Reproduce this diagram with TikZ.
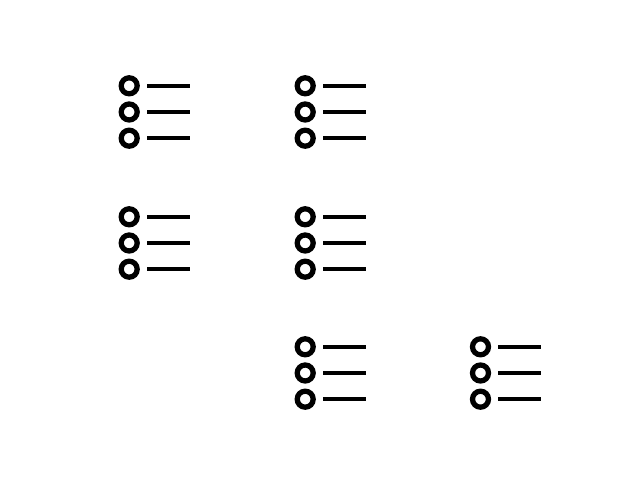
\documentclass[tikz,border=0pt]{standalone}
\usepackage{tikz}
\tikzset{
  bullet/.style={draw=black,line width=3pt,fill=none},
  bar/.style={fill=black},
  listicon/.pic={
    \foreach \row in {26.2,0,-26.2}{
      \draw[bullet] (0,\row) circle[radius=8];
      \fill[bar] (17.3,\row-2.2) rectangle (60.5,\row+2.2);
    }
  }
}
\begin{document}
\begin{tikzpicture}[x=0.02cm,y=0.02cm]
\useasboundingbox (0,0) rectangle (640,480);
% top row
\pic at (129.2,368) {listicon};
\pic at (305.2,368) {listicon};
% middle row
\pic at (129.2,237) {listicon};
\pic at (305.2,237) {listicon};
% bottom row
\pic at (305.2,107) {listicon};
\pic at (480.5,107) {listicon};
\end{tikzpicture}
\end{document}
